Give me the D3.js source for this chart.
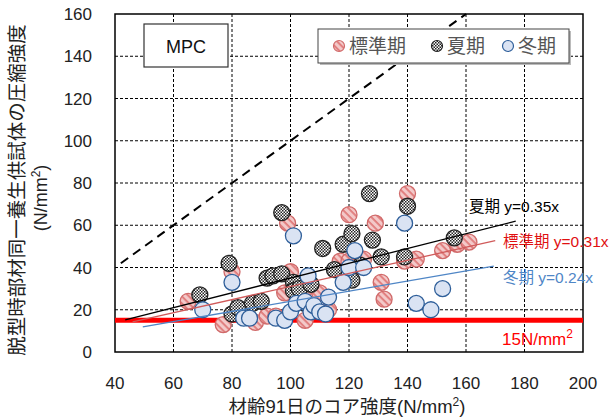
<!DOCTYPE html>
<html lang="ja">
<head>
<meta charset="UTF-8">
<title>MPC</title>
<script src="https://d3js.org/d3.v7.min.js"></script>
<style>
  body { margin: 0; background: #fff; }
  text { font-family: "Liberation Sans", Arial, "Noto Sans CJK JP", sans-serif; }
</style>
</head>
<body>
<div id="chart"></div>
<script>
// data: [core strength at 91 days, strength of companion specimen]
const standard = [[65,24],[77,13],[80,38],[84,18],[88,14],[92,17],[95,17],[98,28],[99,61],[100,38],
  [103,25],[105,15],[106,31],[110,28],[113,20],[117,43],[120,65],[120,43],[122,40],[125,44],
  [129,61],[131,33],[132,25],[139,43],[140,75],[143,44],[152,48],[157,51],[161,52]];
const summer = [[69,27],[79,42],[80,18],[82,21],[87,23],[90,24],[92,35],[94,36],[97,37],[97,66],
  [101,33],[101,29],[103,30],[105,23],[107,32],[108,21],[111,49],[115,39],[118,51],[121,56],
  [121,34],[124,41],[127,75],[128,53],[131,45],[139,45],[140,69],[156,54]];
const winter = [[70,20],[80,33],[84,16],[86,16],[95,16],[98,15],[100,19],[101,55],[102,23],[105,24],
  [106,36],[107,19],[108,22],[110,19],[112,18],[113,26],[118,33],[120,40],[122,48],[125,40],
  [139,61],[143,23],[148,20],[152,30]];

const xTicks = [40, 60, 80, 100, 120, 140, 160, 180, 200];
const yTicks = [0, 20, 40, 60, 80, 100, 120, 140, 160];

// fitted lines: name, slope, x range
const fits = [
  { name: "夏期", k: 0.35, x0: 43.5, x1: 177, color: "#000000", label: "夏期 y=0.35x", labelColor: "#000000", lx: 469, ly: 212 },
  { name: "標準期", k: 0.31, x0: 46, x1: 170, color: "#d05a5a", label: "標準期 y=0.31x", labelColor: "#e01010", lx: 503, ly: 247 },
  { name: "冬期", k: 0.24, x0: 49.5, x1: 169.5, color: "#4f86c6", label: "冬期 y=0.24x", labelColor: "#4f86c6", lx: 503, ly: 283 }
];
const limit = 15;

const width = 613, height = 420;
const margin = { left: 115, right: 30, top: 14, bottom: 68 };

const svg = d3.select("#chart").append("svg")
  .attr("width", width).attr("height", height);

// patterns for markers
const defs = svg.append("defs");
const stripe = defs.append("pattern").attr("id", "stripe")
  .attr("patternUnits", "userSpaceOnUse").attr("width", 5).attr("height", 5)
  .attr("patternTransform", "rotate(45)");
stripe.append("rect").attr("width", 5).attr("height", 5).attr("fill", "#f3c9c9");
stripe.append("rect").attr("width", 5).attr("height", 1.8).attr("fill", "#e07a7a");

const checker = defs.append("pattern").attr("id", "checker")
  .attr("patternUnits", "userSpaceOnUse").attr("width", 3).attr("height", 3);
checker.append("rect").attr("width", 3).attr("height", 3).attr("fill", "#fff");
checker.append("rect").attr("width", 1.5).attr("height", 1.5).attr("fill", "#222");
checker.append("rect").attr("x", 1.5).attr("y", 1.5).attr("width", 1.5).attr("height", 1.5).attr("fill", "#222");

const x = d3.scaleLinear().domain([40, 200]).range([margin.left, width - margin.right]);
const y = d3.scaleLinear().domain([0, 160]).range([height - margin.bottom, margin.top]);

// grid
svg.append("g").selectAll("line").data(xTicks.slice(1, -1)).join("line")
  .attr("x1", d => x(d)).attr("x2", d => x(d))
  .attr("y1", y(0)).attr("y2", y(160))
  .attr("stroke", "#000").attr("stroke-width", 1).attr("stroke-dasharray", "3,2");
svg.append("g").selectAll("line").data(yTicks.slice(1, -1)).join("line")
  .attr("x1", x(40)).attr("x2", x(200))
  .attr("y1", d => y(d)).attr("y2", d => y(d))
  .attr("stroke", "#000").attr("stroke-width", 1).attr("stroke-dasharray", "3,2");

// frame
svg.append("rect").attr("x", x(40)).attr("y", y(160))
  .attr("width", x(200) - x(40)).attr("height", y(0) - y(160))
  .attr("fill", "none").attr("stroke", "#000").attr("stroke-width", 1.5);

// tick labels
svg.append("g").selectAll("text").data(xTicks).join("text")
  .attr("x", d => x(d)).attr("y", y(0) + 37)
  .attr("text-anchor", "middle").attr("font-size", 17).attr("fill", "#222")
  .text(d => d);
svg.append("g").selectAll("text").data(yTicks).join("text")
  .attr("x", x(40) - 23).attr("y", d => y(d) + 6)
  .attr("text-anchor", "end").attr("font-size", 17).attr("fill", "#222")
  .text(d => d);

// y = x line
svg.append("line")
  .attr("x1", x(42)).attr("y1", y(42)).attr("x2", x(160)).attr("y2", y(160))
  .attr("stroke", "#000").attr("stroke-width", 2).attr("stroke-dasharray", "9,6");

// 15 N/mm2 line
svg.append("line")
  .attr("x1", x(40)).attr("x2", x(200)).attr("y1", y(limit)).attr("y2", y(limit))
  .attr("stroke", "#ff0000").attr("stroke-width", 5);

// points
const groups = [
  { data: standard, fill: "url(#stripe)", stroke: "#d06a6a" },
  { data: summer, fill: "url(#checker)", stroke: "#222" },
  { data: winter, fill: "#dae3f3", stroke: "#2f5f9a" }
];
groups.forEach(g => {
  svg.append("g").selectAll("circle").data(g.data).join("circle")
    .attr("cx", d => x(d[0])).attr("cy", d => y(d[1])).attr("r", 8)
    .attr("fill", g.fill).attr("stroke", g.stroke).attr("stroke-width", 1.3);
});

// fit lines
svg.append("g").selectAll("line").data(fits).join("line")
  .attr("x1", d => x(d.x0)).attr("y1", d => y(d.k * d.x0))
  .attr("x2", d => x(d.x1)).attr("y2", d => y(d.k * d.x1))
  .attr("stroke", d => d.color).attr("stroke-width", 1.3);
svg.append("g").selectAll("text").data(fits).join("text")
  .attr("x", d => d.lx).attr("y", d => d.ly)
  .attr("font-size", 15.5).attr("fill", d => d.labelColor)
  .text(d => d.label);

const lim = svg.append("text").attr("x", 502).attr("y", 345)
  .attr("font-size", 17).attr("fill", "#ff0000").text("15N/mm");
lim.append("tspan").attr("dy", -7).attr("font-size", 12).text("2");

// MPC box
svg.append("rect").attr("x", 144).attr("y", 24).attr("width", 84).attr("height", 43)
  .attr("fill", "#fff").attr("stroke", "#333").attr("stroke-width", 1.2);
svg.append("text").attr("x", 186).attr("y", 53).attr("text-anchor", "middle")
  .attr("font-size", 18).attr("fill", "#111").text("MPC");

// legend
svg.append("rect").attr("x", 320).attr("y", 31).attr("width", 251).attr("height", 34)
  .attr("fill", "#bbb");
svg.append("rect").attr("x", 318).attr("y", 29).attr("width", 251).attr("height", 34)
  .attr("fill", "#fff").attr("stroke", "#444").attr("stroke-width", 1);
const legendItems = [
  { label: "標準期", fill: "url(#stripe)", stroke: "#d06a6a", cx: 339 },
  { label: "夏期", fill: "url(#checker)", stroke: "#222", cx: 437 },
  { label: "冬期", fill: "#dae3f3", stroke: "#2f5f9a", cx: 508 }
];
const li = svg.append("g").selectAll("g").data(legendItems).join("g");
li.append("circle").attr("cx", d => d.cx).attr("cy", 46).attr("r", 5.5)
  .attr("fill", d => d.fill).attr("stroke", d => d.stroke).attr("stroke-width", 1.2);
li.append("text").attr("x", d => d.cx + 10).attr("y", 53)
  .attr("font-size", 19).attr("fill", "#555").text(d => d.label);

// axis titles
const xt = svg.append("text").attr("x", 347).attr("y", 413).attr("text-anchor", "middle")
  .attr("font-size", 18.5).attr("fill", "#222").text("材齢91日のコア強度(N/mm");
xt.append("tspan").attr("dy", -7).attr("font-size", 12).text("2");
xt.append("tspan").attr("dy", 7).text(")");

svg.append("text").attr("transform", "translate(24,190) rotate(-90)")
  .attr("text-anchor", "middle").attr("font-size", 19.5).attr("fill", "#222")
  .text("脱型時部材同一養生供試体の圧縮強度");
const yt2 = svg.append("text").attr("transform", "translate(47,198) rotate(-90)")
  .attr("text-anchor", "middle").attr("font-size", 18).attr("fill", "#222")
  .text("(N/mm");
yt2.append("tspan").attr("dy", -7).attr("font-size", 12).text("2");
yt2.append("tspan").attr("dy", 7).text(")");
</script>
</body>
</html>
